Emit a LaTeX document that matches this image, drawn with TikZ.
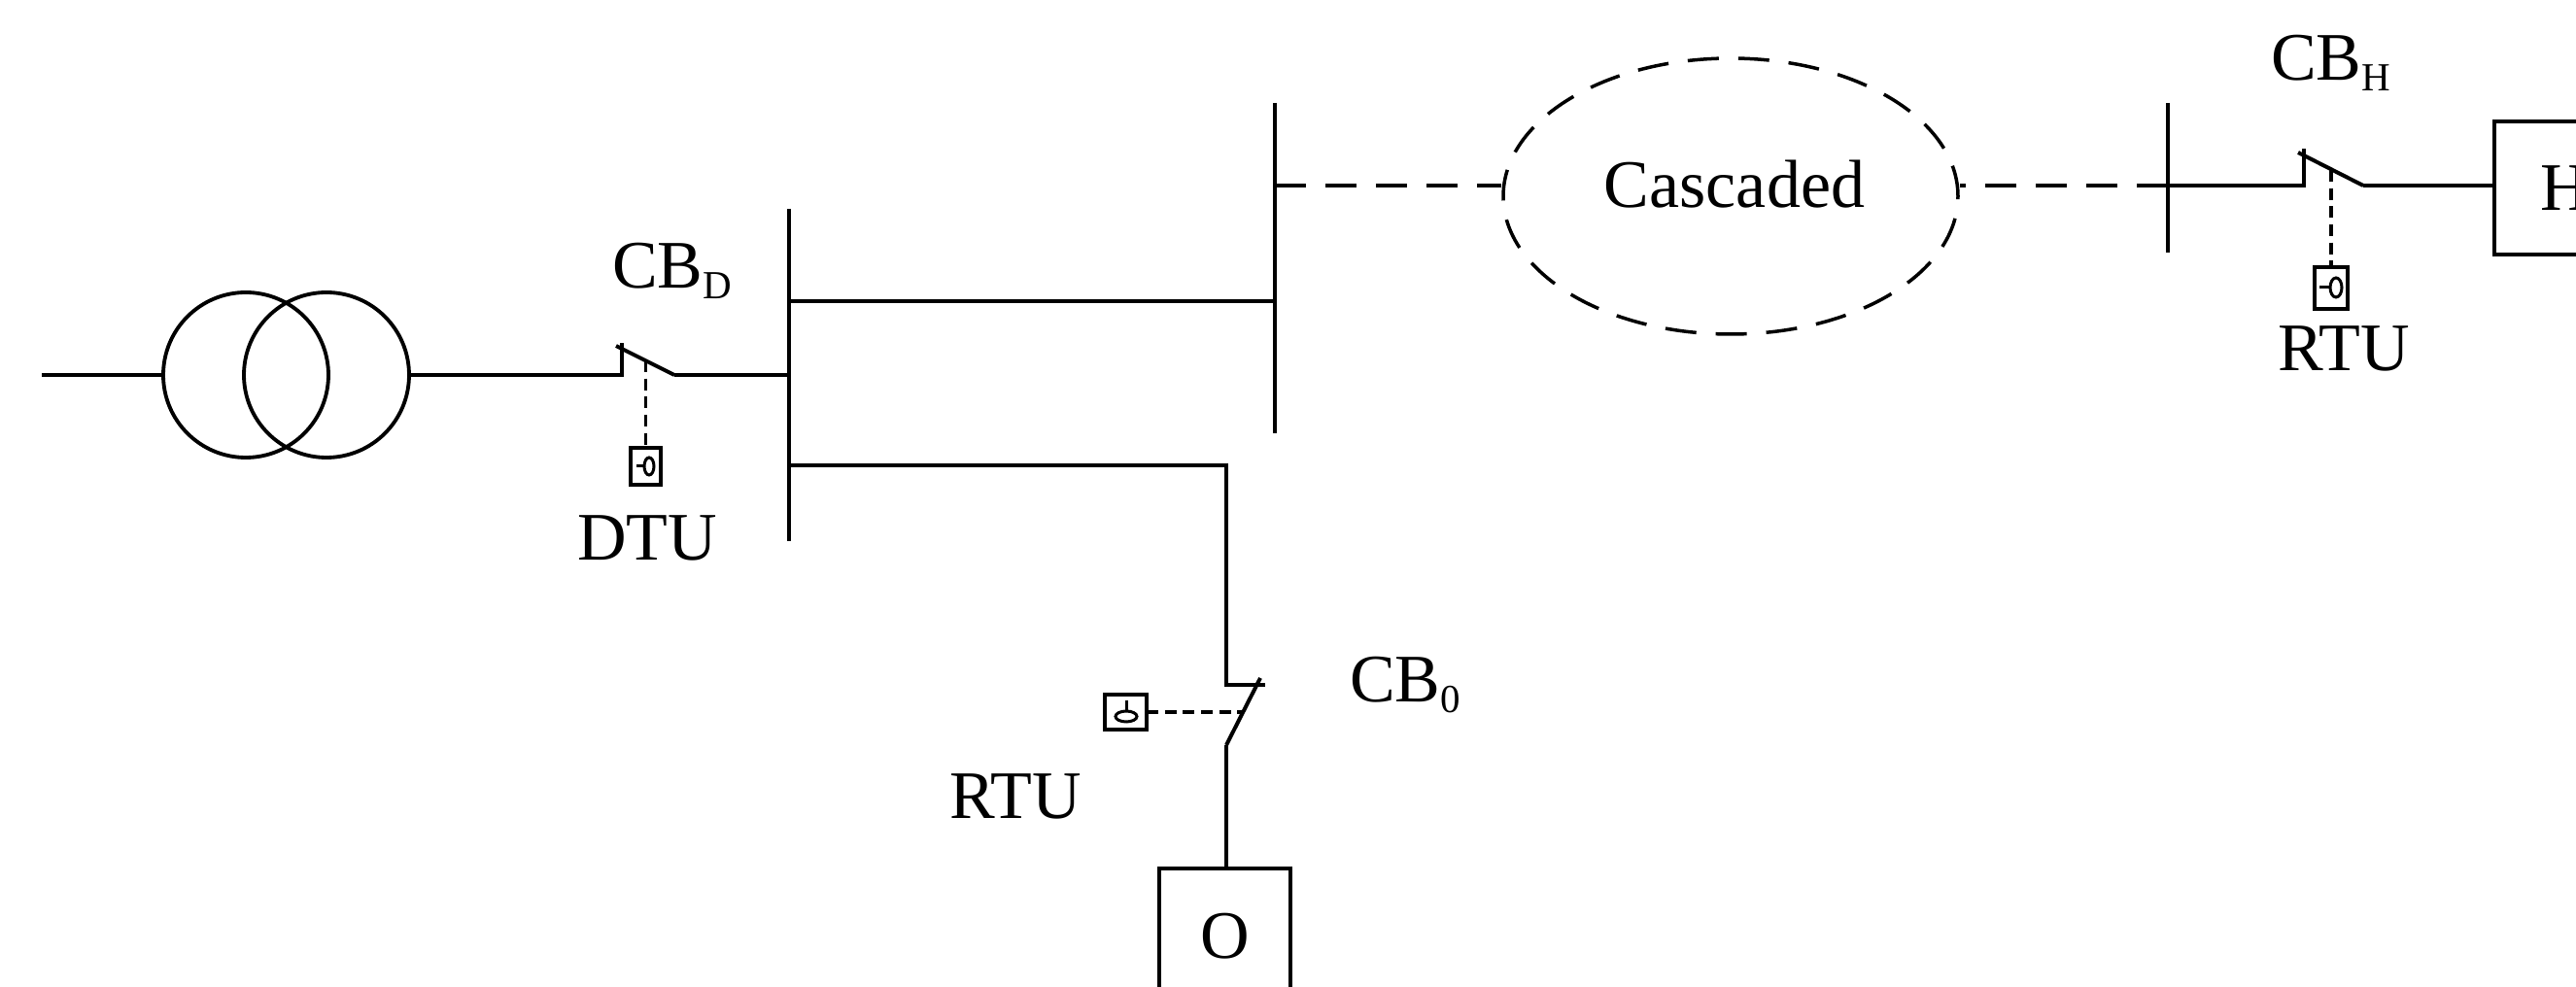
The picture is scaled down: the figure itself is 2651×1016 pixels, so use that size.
\documentclass[tikz,border=0pt]{standalone}
\usepackage{fontspec}
\setmainfont{Liberation Serif}
\usetikzlibrary{shapes.geometric}
\newcommand\lowsub[1]{\raisebox{-3.3pt}{\fontsize{12.3}{14}\selectfont #1}}
\begin{document}
\begin{tikzpicture}[x=0.3pt,y=-0.3pt,line width=1.2pt,
  lbl/.style={font=\fontsize{21}{25}\selectfont,inner sep=0pt,anchor=base west},
  xfmr/.style={circle,draw,line width=1.15pt,minimum size=51pt,inner sep=0pt,outer sep=0pt},
  ctrl/.style={line width=1.1pt,dash pattern=on 3.6pt off 2pt},
  link/.style={line width=1.15pt,dash pattern=on 9.6pt off 6pt},
  tbox/.style={draw,line width=1.1pt,inner sep=0pt,outer sep=0pt},
  load/.style={draw,line width=1.2pt,inner sep=0pt,outer sep=0pt,font=\fontsize{21}{25}\selectfont}]
\useasboundingbox (0,0) rectangle (2651,1016);
\clip (0,0) rectangle (2651,1016);

% transformer
\coordinate (src) at (43,386);
\node[xfmr] (t1) at (253,386) {};
\node[xfmr] (t2) at (336,386) {};
\draw (src) -- (t1.west);

% CB_D switch
\coordinate (dA) at (640,386);
\coordinate (dT) at (640,353);
\coordinate (dB1) at (634,356);
\coordinate (dB2) at (694,386);
\draw (t2.east) -- (dA) -- (dT);
\draw (dB1) -- (dB2);

% left bus
\coordinate (bL1) at (812,215);
\coordinate (bL2) at (812,557);
\draw (bL1) -- (bL2);
\draw (dB2) -- (bL1 |- dB2);

% DTU
\node[tbox,minimum width=9.3pt,minimum height=11.4pt] (dtu) at (664.5,480) {};
\draw[line width=0.9pt] (655,480) -- (663,480);
\draw[line width=0.9pt] (668,480) ellipse [x radius=1.5pt,y radius=2.7pt];
\coordinate (dC) at (664.5,371);
\draw[ctrl] (dC) -- (dtu.north);
\node[lbl] (cbd) at (628,297) {CB\lowsub{D}};
\node[lbl] (dtul) at (592,577) {DTU};

% upper feeder to right bus
\coordinate (bR1) at (1312,106);
\coordinate (bR2) at (1312,446);
\draw (bR1) -- (bR2);
\coordinate (uL) at (812,310);
\draw (uL) -- (bR1 |- uL);

% lower feeder with CB_0
\coordinate (lL) at (812,479);
\coordinate (lC) at (1262,479);
\coordinate (oA) at (1262,705);
\coordinate (oS) at (1302,705);
\coordinate (oB1) at (1297,698);
\coordinate (oB2) at (1262,767);
\draw (lL) -- (lC) -- (oA) -- (oS);
\draw (oB1) -- (oB2);
\node[load,minimum width=40.5pt,minimum height=42pt] (O) at (1260.5,964) {O};
\draw (oB2) -- (O.north -| oB2);

% RTU at CB_0
\node[tbox,minimum width=12.9pt,minimum height=10.8pt] (rtuo) at (1158.5,733) {};
\draw[line width=0.9pt] (1159,721) -- (1159,732);
\draw[line width=0.9pt] (1159,737.5) ellipse [x radius=3.3pt,y radius=1.65pt];
\coordinate (oC) at (1279,733);
\draw[ctrl] (rtuo.east) -- (oC);
\node[lbl] (cbo) at (1387,723) {CB\lowsub{0}};
\node[lbl] (rtuol) at (975,843) {RTU};

% cascaded
\coordinate (rL) at (1312,191);
\node[draw,ellipse,line width=1.05pt,dash pattern=on 9.6pt off 6pt,minimum width=140.4pt,minimum height=85.2pt,inner sep=0pt] (casc) at (1781,202) {};
\node[lbl,anchor=base] (casct) at (1785,214) {Cascaded};
\draw[link] (rL) -- (casc.west |- rL);

% right bus and CB_H
\coordinate (bH1) at (2231,106);
\coordinate (bH2) at (2231,260);
\coordinate (hL) at (2231,191);
\draw (bH1) -- (bH2);
\draw[link] (hL) -- (casc.east |- hL);
\coordinate (hA) at (2371,191);
\coordinate (hT) at (2371,153);
\coordinate (hB1) at (2365,157);
\coordinate (hB2) at (2432,191);
\draw (hL) -- (hA) -- (hT);
\draw (hB1) -- (hB2);
\node[load,minimum width=43.8pt,minimum height=41.1pt] (H) at (2640,193.5) {H};
\draw (hB2) -- (H.west |- hB2);

% RTU at CB_H
\node[tbox,minimum width=10.2pt,minimum height=12.9pt] (rtuh) at (2399,296.5) {};
\draw[line width=0.9pt] (2387,296) -- (2398,296);
\draw[line width=0.9pt] (2404,296) ellipse [x radius=1.8pt,y radius=3pt];
\coordinate (hC) at (2399,175);
\draw[ctrl] (hC) -- (rtuh.north);
\node[lbl] (cbh) at (2335,83) {CB\lowsub{H}};
\node[lbl] (rtuhl) at (2342,382) {RTU};
\end{tikzpicture}
\end{document}
